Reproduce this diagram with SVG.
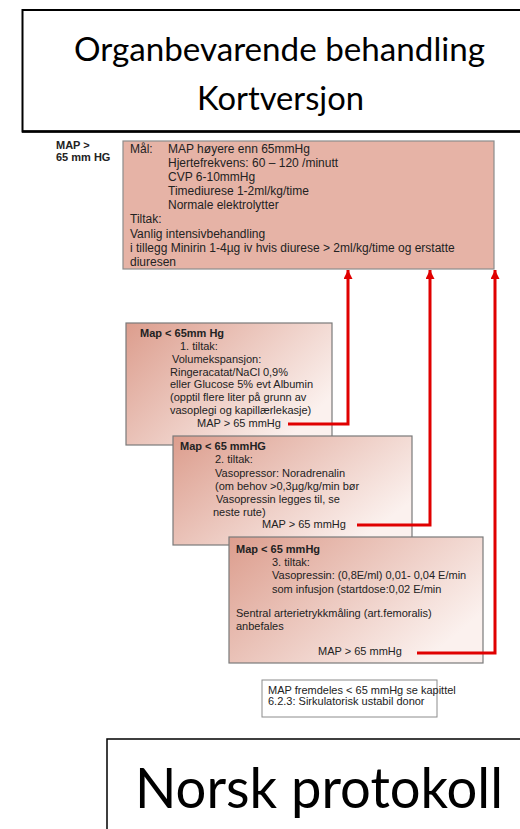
<svg xmlns="http://www.w3.org/2000/svg" width="520" height="829" viewBox="0 0 520 829">
<style>
.cal{font-family:Lato,"Open Sans","Liberation Sans",sans-serif;fill:#000}
.t{font-family:"Liberation Sans",Arial,sans-serif;font-size:11px;fill:#222}
.tm{font-family:"Liberation Sans",Arial,sans-serif;font-size:12px;fill:#222}
.b{font-weight:bold}
.step{stroke:#7a7a7a;stroke-width:1.2;fill:url(#g)}
.red{fill:none;stroke:#e00000;stroke-width:3;marker-end:url(#ah)}
</style>
<defs>
<linearGradient id="g" x1="0" y1="0" x2="1" y2="0.6">
<stop offset="0" stop-color="#dc9d8d"/>
<stop offset="1" stop-color="#fbf1ee"/>
</linearGradient>
<marker id="ah" viewBox="0 0 10 10" refX="10" refY="5" markerWidth="3.2" markerHeight="3" orient="auto" markerUnits="strokeWidth">
<path d="M0,0 L10,5 L0,10 z" fill="#e00000"/>
</marker>
</defs>

<g id="title">
<rect x="22.5" y="10" width="510" height="121.5" fill="#fff" stroke="#000" stroke-width="2"/>
<line x1="22" y1="131.5" x2="520" y2="131.5" stroke="#000" stroke-width="2.5"/>
<text class="cal" x="74" y="61" font-size="32" textLength="411" lengthAdjust="spacingAndGlyphs">Organbevarende behandling</text>
<text class="cal" x="197" y="110" font-size="32" textLength="167" lengthAdjust="spacingAndGlyphs">Kortversjon</text>
</g>

<g id="map-label">
<text class="t b" font-size="10" x="56" y="149">MAP &gt;</text>
<text class="t b" font-size="10" x="56" y="161">65 mm HG</text>
</g>

<g id="goal">
<rect x="123" y="141" width="371" height="128" fill="#e6b3a6" stroke="#8c8c8c" stroke-width="1.2"/>
<text class="tm" x="130" y="153">Mål:</text>
<text class="tm" x="168" y="153">MAP høyere enn 65mmHg</text>
<text class="tm" x="168" y="167">Hjertefrekvens: 60 – 120 /minutt</text>
<text class="tm" x="168" y="181">CVP 6-10mmHg</text>
<text class="tm" x="168" y="195">Timediurese 1-2ml/kg/time</text>
<text class="tm" x="168" y="209">Normale elektrolytter</text>
<text class="tm" x="130" y="223">Tiltak:</text>
<text class="tm" x="130" y="238">Vanlig intensivbehandling</text>
<text class="tm" x="130" y="252">i tillegg Minirin 1-4µg iv hvis diurese &gt; 2ml/kg/time og erstatte</text>
<text class="tm" x="130" y="266">diuresen</text>
</g>

<g id="step1">
<rect class="step" x="126" y="323" width="206" height="122"/>
<text class="t b" x="140" y="337">Map &lt; 65mm Hg</text>
<text class="t" x="180" y="349.5">1. tiltak:</text>
<text class="t" x="172" y="362.5">Volumekspansjon:</text>
<text class="t" x="170" y="375.5">Ringeracatat/NaCl 0,9%</text>
<text class="t" x="170" y="388">eller Glucose 5% evt Albumin</text>
<text class="t" x="170" y="400.5">(opptil flere liter på grunn av</text>
<text class="t" x="170" y="413.5">vasoplegi og kapillærlekasje)</text>
<text class="t" x="197" y="427">MAP &gt; 65 mmHg</text>
</g>

<g id="step2">
<rect class="step" x="173" y="436" width="239" height="109"/>
<text class="t b" x="180" y="450">Map &lt; 65 mmHG</text>
<text class="t" x="215" y="463">2. tiltak:</text>
<text class="t" x="215" y="476.5">Vasopressor: Noradrenalin</text>
<text class="t" x="215" y="490">(om behov &gt;0,3µg/kg/min bør</text>
<text class="t" x="216" y="503">Vasopressin legges til, se</text>
<text class="t" x="213" y="516">neste rute)</text>
<text class="t" x="262" y="528">MAP &gt; 65 mmHg</text>
</g>

<g id="step3">
<rect class="step" x="229" y="537" width="254" height="126"/>
<text class="t b" x="236" y="553">Map &lt; 65 mmHg</text>
<text class="t" x="272" y="566">3. tiltak:</text>
<text class="t" x="272" y="579">Vasopressin: (0,8E/ml) 0,01- 0,04 E/min</text>
<text class="t" x="272" y="593">som infusjon (startdose:0,02 E/min</text>
<text class="t" x="236" y="617">Sentral arterietrykkmåling (art.femoralis)</text>
<text class="t" x="236" y="630">anbefales</text>
<text class="t" x="318" y="655">MAP &gt; 65 mmHg</text>
</g>

<g id="note">
<rect x="262" y="680" width="175" height="37" fill="#fff" stroke="#8c8c8c" stroke-width="1"/>
<text class="t" font-size="9.5" x="268" y="694">MAP fremdeles &lt; 65 mmHg se kapittel</text>
<text class="t" font-size="9.5" x="268" y="705">6.2.3: Sirkulatorisk ustabil donor</text>
</g>

<g id="footer">
<rect x="107" y="739" width="430" height="110" fill="#fff" stroke="#000" stroke-width="1.5"/>
<text class="cal" x="135" y="808" font-size="56" textLength="368" lengthAdjust="spacingAndGlyphs">Norsk protokoll</text>
</g>

<g id="connectors">
<path class="red" d="M288,424 H348 V270"/>
<path class="red" d="M357,525 H430 V270"/>
<path class="red" d="M417,653 H495 V270"/>
</g>
</svg>
